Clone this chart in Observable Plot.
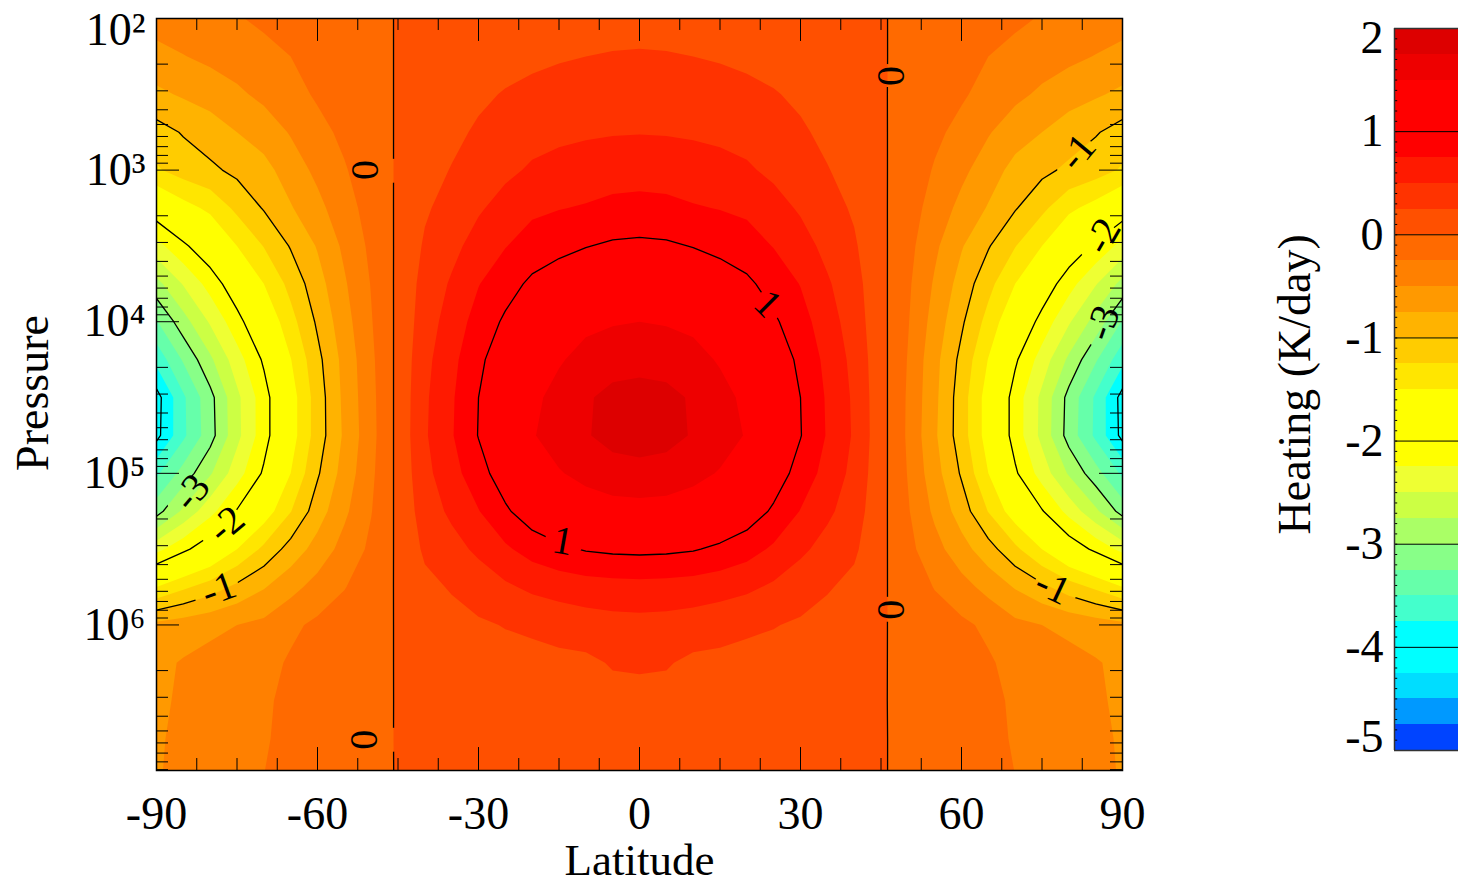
<!DOCTYPE html>
<html>
<head>
<meta charset="utf-8">
<script src="https://cdn.jsdelivr.net/npm/d3@7"></script>
<script src="https://cdn.jsdelivr.net/npm/@observablehq/plot@0.6"></script>
<style>
  html, body { margin: 0; padding: 0; background: #fff; overflow: hidden; }
  #wrap { position: relative; width: 1458px; height: 884px; overflow: hidden; }
  #wrap svg { position: absolute; left: 0; top: 0; background: transparent; }
</style>
</head>
<body>
<div id="wrap"></div>
<script>
// Heating. Rows: log10(pressure) 2..7 in steps of 0.25.
// Columns: latitude -90..0 in steps of 5; the field is read as mirror-symmetric
// apart from the two eastern columns listed below.
const heatingWest = [
 [-.38,-.34,-.3,-.27,-.2,-.16,-.12,-.075,-.035,.007,.05,.06,.07,.085,.1,.117,.13,.16,.17],
 [-.59,-.51,-.44,-.385,-.33,-.25,-.17,-.11,-.05,.01,.07,.1,.13,.17,.2,.23,.25,.265,.27],
 [-.8,-.72,-.65,-.545,-.44,-.33,-.22,-.145,-.07,.014,.1,.155,.21,.265,.31,.335,.35,.37,.38],
 [-1.1,-.98,-.87,-.75,-.64,-.48,-.32,-.2,-.09,.018,.13,.2,.28,.355,.42,.45,.47,.485,.49],
 [-1.28,-1.14,-1.05,-.94,-.83,-.63,-.44,-.27,-.12,.024,.17,.26,.36,.45,.53,.575,.61,.64,.65],
 [-1.82,-1.6,-1.44,-1.19,-.98,-.77,-.57,-.35,-.154,.031,.22,.34,.47,.59,.7,.74,.77,.815,.83],
 [-2.34,-2.05,-1.8,-1.5,-1.24,-.98,-.73,-.45,-.196,.039,.28,.43,.6,.74,.86,.93,.99,1.035,1.05],
 [-2.83,-2.48,-2.15,-1.82,-1.5,-1.17,-.85,-.53,-.238,.048,.34,.53,.74,.9,1.05,1.14,1.21,1.28,1.3],
 [-3.27,-2.85,-2.47,-2.09,-1.73,-1.34,-.96,-.6,-.266,.053,.38,.61,.85,1.04,1.2,1.32,1.43,1.48,1.5],
 [-3.67,-3.22,-2.8,-2.36,-1.96,-1.51,-1.07,-.67,-.3,.06,.43,.68,.95,1.15,1.32,1.47,1.6,1.645,1.66],
 [-4.1,-3.54,-3.08,-2.56,-2.11,-1.62,-1.13,-.69,-.32,.064,.46,.72,1,1.23,1.43,1.6,1.72,1.82,1.85],
 [-4.08,-3.55,-3.1,-2.57,-2.11,-1.62,-1.13,-.71,-.33,.066,.47,.73,1.01,1.26,1.48,1.62,1.73,1.83,1.86],
 [-3.55,-3.15,-2.78,-2.36,-1.96,-1.5,-1.03,-.65,-.3,.06,.43,.66,.9,1.14,1.35,1.48,1.58,1.65,1.67],
 [-3.1,-2.7,-2.33,-1.98,-1.65,-1.26,-.87,-.55,-.26,.052,.37,.55,.74,.96,1.15,1.26,1.35,1.395,1.41],
 [-2.33,-2.06,-1.82,-1.5,-1.19,-.9,-.65,-.41,-.2,.04,.29,.41,.55,.71,.85,.95,1.02,1.05,1.06],
 [-1.5,-1.3,-1.13,-.94,-.77,-.58,-.41,-.26,-.133,.027,.19,.27,.36,.46,.55,.6,.64,.66,.67],
 [-.68,-.62,-.56,-.5,-.44,-.3,-.2,-.14,-.09,.018,.13,.17,.22,.26,.29,.34,.38,.41,.42],
 [-.56,-.48,-.42,-.37,-.33,-.22,-.15,-.11,-.07,.014,.1,.13,.16,.17,.18,.19,.2,.27,.28],
 [-.55,-.46,-.38,-.33,-.28,-.2,-.13,-.09,-.056,.011,.08,.1,.12,.13,.14,.145,.15,.17,.18],
 [-.53,-.44,-.36,-.31,-.27,-.19,-.12,-.085,-.05,.01,.07,.085,.1,.105,.11,.115,.12,.14,.15],
 [-.52,-.43,-.35,-.3,-.25,-.17,-.1,-.07,-.042,.008,.06,.075,.09,.095,.1,.1,.1,.12,.13]
];
const heatingEast45 = [.01,.014,.019,.025,.033,.042,.054,.065,.073,.083,.089,.091,.083,.071,.056,.037,.025,.019,.015,.014,.012];
const heatingEast50 = [-.031,-.043,-.061,-.079,-.104,-.134,-.171,-.207,-.232,-.262,-.281,-.287,-.262,-.226,-.177,-.116,-.079,-.061,-.049,-.043,-.037];
const westColumnOf = {lat45: 9, lat50: 8};
const gridColumns = 37;
const gridRows = heatingWest.length;
const heating = heatingWest.flatMap((west, r) => {
  const east = west.slice(0, -1).reverse();
  east[east.length - 1 - westColumnOf.lat45] = heatingEast45[r];
  east[east.length - 1 - westColumnOf.lat50] = heatingEast50[r];
  return [...west, ...east];
});

// Colour bands, low to high, one per 0.25 K/day from -5 to 2
const bandLower = [-5,-4.75,-4.5,-4.25,-4,-3.75,-3.5,-3.25,-3,-2.75,-2.5,-2.25,-2,-1.75,-1.5,-1.25,-1,-.75,-.5,-.25,0,.25,.5,.75,1,1.25,1.5,1.75];
const bandColors = ["#0044ff","#0099ff","#00ddff","#00ffff","#00ffff","#44ffcc","#66ffaa","#88ff88","#aaff66","#ccff44","#eeff33","#ffff00","#ffff00","#ffff00","#ffe600","#ffcc00","#ffb300","#ff9900","#ff8000","#ff6a00","#ff5000","#ff3300","#ff1a00","#ff0000","#ff0000","#ff0000","#ee0000","#dd0000"];
const lineLevels = [-4,-3,-2,-1,0,1];
const barLines = [-4,-3,-2,-1,0,1];

// Inline contour labels (position in latitude and log10 pressure)
const labelLat  = [-51.2,-51.3,46.8,46.8,-78.4,-77,-83.5,81.6,86.3,86.3,77,23.9,-14.3];
const labelLogP = [3.0,6.757,2.38,5.9,5.763,5.336,5.125,2.882,3.434,4.007,5.75,3.882,5.447];
const labelText = ["0","0","0","0","-1","-2","-3","-1","-2","-3","-1","1","1"];
const labelTurn = [90,90,90,90,-20,-40,-50,-50,-60,-70,25,45,10];

// Breaks in the contour lines where labels sit
const gapLat  = [-45.84,-45.84,46.2,46.2,-78.6,-77.7,-84.8,80.9,85.5,85.7,77.7,24.2,-14];
const gapLogP = [3.007,6.76,2.38,5.9,5.79,5.36,5.15,2.9,3.47,4.04,5.757,3.895,5.454];
const gapSize = [12,12,11.5,12.5,23,23,19,22,21,19,22,15,19];

// Axis ticks
const latMajor = [-90,-60,-30,0,30,60,90];
const latMinor = [-82.5,-75,-67.5,-52.5,-45,-37.5,-22.5,-15,-7.5,7.5,15,22.5,37.5,45,52.5,67.5,75,82.5];
const decades = [2,3,4,5,6];
const decadeLabels = {2:"10²",3:"10³",4:"10⁴",5:"10⁵",6:"10⁶"};
const mantissas = [2,3,4,5,6,7,8,9];
const barMajor = [1,0,-1,-2,-3,-4];

const serif = "'Liberation Serif','Times New Roman',serif";
const axisFont = 46;
const yTop = 2, yBottom = 6.96;
const pressureMinor = decades.flatMap(d => mantissas.map(m => d + Math.log10(m)));
const latPx = 966 / 180, decadePx = 152;
const majorLat = 23 / latPx, minorLat = 12 / latPx, majorDec = 23 / decadePx, minorDec = 12 / decadePx;

const gridExtent = {
  width: gridColumns, height: gridRows,
  x1: -92.5, x2: 92.5,
  y1: 1.875, y2: 7.125,
  value: Plot.identity, clip: true
};

function lineGaps(index, scales, values, dimensions, context, next) {
  const g = next(index, scales, values, dimensions, context);
  const doc = context.document, ns = "http://www.w3.org/2000/svg";
  const mask = doc.createElementNS(ns, "mask");
  mask.setAttribute("id", "label-gaps");
  mask.setAttribute("maskUnits", "userSpaceOnUse");
  mask.setAttribute("x", 0); mask.setAttribute("y", 0);
  mask.setAttribute("width", dimensions.width); mask.setAttribute("height", dimensions.height);
  const bg = doc.createElementNS(ns, "rect");
  bg.setAttribute("width", dimensions.width); bg.setAttribute("height", dimensions.height);
  bg.setAttribute("fill", "white");
  mask.append(bg);
  gapLat.forEach((lat, i) => {
    const c = doc.createElementNS(ns, "circle");
    c.setAttribute("cx", scales.x(lat));
    c.setAttribute("cy", scales.y(gapLogP[i]));
    c.setAttribute("r", gapSize[i]);
    c.setAttribute("fill", "black");
    mask.append(c);
  });
  const wrap = doc.createElementNS(ns, "g");
  g.setAttribute("mask", "url(#label-gaps)");
  wrap.append(mask, g);
  return wrap;
}

const main = Plot.plot({
  width: 1458, height: 884,
  marginLeft: 156, marginRight: 336, marginTop: 18, marginBottom: 114,
  style: {fontFamily: serif, color: "black", background: "transparent"},
  x: {domain: [-90, 90], label: null},
  y: {domain: [yTop, yBottom], reverse: true, label: null},
  color: {type: "threshold", domain: bandLower.slice(1), range: bandColors},
  marks: [
    Plot.contour(heating, {...gridExtent, fill: "value", thresholds: bandLower}),
    Plot.contour(heating, {...gridExtent, stroke: "black", fill: "none", strokeWidth: 1.3, thresholds: lineLevels, render: lineGaps}),
    // inward ticks on all four sides
    Plot.ruleX(latMajor, {x: d => d, y1: yTop, y2: yTop + majorDec, stroke: "black"}),
    Plot.ruleX(latMinor, {x: d => d, y1: yTop, y2: yTop + minorDec, stroke: "black"}),
    Plot.ruleX(latMajor, {x: d => d, y1: yBottom, y2: yBottom - majorDec, stroke: "black"}),
    Plot.ruleX(latMinor, {x: d => d, y1: yBottom, y2: yBottom - minorDec, stroke: "black"}),
    Plot.ruleY(decades, {y: d => d, x1: -90, x2: -90 + majorLat, stroke: "black"}),
    Plot.ruleY(pressureMinor, {y: d => d, x1: -90, x2: -90 + minorLat, stroke: "black"}),
    Plot.ruleY(decades, {y: d => d, x1: 90, x2: 90 - majorLat, stroke: "black"}),
    Plot.ruleY(pressureMinor, {y: d => d, x1: 90, x2: 90 - minorLat, stroke: "black"}),
    Plot.frame({stroke: "black", strokeWidth: 1.5}),
    Plot.axisX(latMajor, {anchor: "bottom", tickSize: 0, tickPadding: 26, fontSize: axisFont, tickFormat: d => String(d), label: null}),
    Plot.axisY(decades.slice(1), {anchor: "left", tickSize: 0, tickPadding: 11, fontSize: axisFont, tickFormat: d => decadeLabels[d], label: null}),
    Plot.axisY(decades.slice(0, 1), {anchor: "left", tickSize: 0, tickPadding: 11, dy: 12, fontSize: axisFont, tickFormat: d => decadeLabels[d], label: null}),
    Plot.text(labelText, {
      x: (d, i) => labelLat[i], y: (d, i) => labelLogP[i],
      text: d => d, rotate: (d, i) => labelTurn[i],
      fontSize: 40, fill: "black"
    }),
    Plot.text(["Latitude"], {x: [0], y: [yBottom], dy: 89.6, fontSize: 45, fill: "black"}),
    Plot.text(["Pressure"], {x: [-90], y: [4.47], dx: -123, rotate: -90, fontSize: axisFont, fill: "black"})
  ]
});

const barMinor = d3.range(-49, 20).map(d => d / 10);
const bar = Plot.plot({
  width: 1458, height: 884,
  marginLeft: 1394, marginRight: 0, marginTop: 28, marginBottom: 134,
  style: {fontFamily: serif, color: "black", background: "transparent"},
  x: {domain: [0, 1], axis: null},
  y: {domain: [-5, 2], label: null},
  color: {type: "threshold", domain: bandLower.slice(1), range: bandColors},
  marks: [
    Plot.rect(bandLower, {x1: 0, x2: 1, y1: d => d, y2: d => d + 0.25, fill: d => d, shapeRendering: "crispEdges"}),
    Plot.ruleY(barLines, {stroke: "black", strokeWidth: 1}),
    Plot.ruleY(barMinor, {y: d => d, x1: 0, x2: 0.05, stroke: "black", strokeWidth: 1}),
    Plot.ruleY([-5, 2], {stroke: "#333", strokeWidth: 1.5}),
    Plot.ruleX([0], {stroke: "#333", strokeWidth: 1.5}),
    Plot.axisY(barMajor, {anchor: "left", tickSize: 0, tickPadding: 11, fontSize: axisFont, tickFormat: d => String(d), label: null}),
    Plot.axisY([2], {anchor: "left", tickSize: 0, tickPadding: 11, dy: 10, fontSize: axisFont, tickFormat: d => String(d), label: null}),
    Plot.axisY([-5], {anchor: "left", tickSize: 0, tickPadding: 11, dy: -13, fontSize: axisFont, tickFormat: d => String(d), label: null}),
    Plot.text(["Heating (K/day)"], {x: [0], y: [-1.45], dx: -99, rotate: -90, fontSize: axisFont, fill: "black"})
  ]
});

document.getElementById("wrap").append(main, bar);
</script>
</body>
</html>
